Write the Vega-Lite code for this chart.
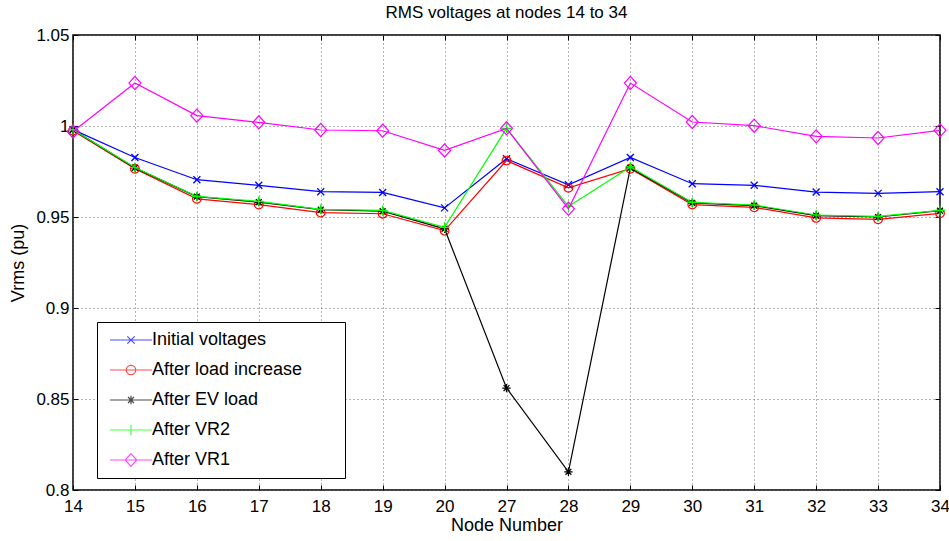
{
  "$schema": "https://vega.github.io/schema/vega-lite/v6.json",
  "width": 867,
  "height": 455,
  "autosize": {"type": "none"},
  "padding": {"left": 73, "top": 35, "right": 9, "bottom": 51},
  "background": "white",
  "title": {"text": "RMS voltages at nodes 14 to 34", "fontSize": 17, "font": "Liberation Sans", "fontWeight": "normal", "color": "black", "offset": 4, "anchor": "middle"},
  "config": {
    "view": {"stroke": "black", "strokeWidth": 1.5},
    "axis": {
      "labelFont": "Liberation Sans", "titleFont": "Liberation Sans",
      "labelFontSize": 17, "titleFontSize": 18,
      "labelColor": "black", "titleColor": "black", "titleFontWeight": "normal",
      "domain": false, "tickColor": "black", "tickSize": -5, "tickWidth": 1,
      "gridColor": "#666", "gridDash": [1, 3], "gridOpacity": 1, "gridWidth": 1
    }
  },
  "datasets": {
    "volts": [
      {"series": "Initial voltages", "node": 14, "v": 0.998},
      {"series": "Initial voltages", "node": 15, "v": 0.9827},
      {"series": "Initial voltages", "node": 16, "v": 0.9705},
      {"series": "Initial voltages", "node": 17, "v": 0.9674},
      {"series": "Initial voltages", "node": 18, "v": 0.9639},
      {"series": "Initial voltages", "node": 19, "v": 0.9635},
      {"series": "Initial voltages", "node": 20, "v": 0.955},
      {"series": "Initial voltages", "node": 27, "v": 0.982},
      {"series": "Initial voltages", "node": 28, "v": 0.9677},
      {"series": "Initial voltages", "node": 29, "v": 0.9827},
      {"series": "Initial voltages", "node": 30, "v": 0.9683},
      {"series": "Initial voltages", "node": 31, "v": 0.9674},
      {"series": "Initial voltages", "node": 32, "v": 0.9637},
      {"series": "Initial voltages", "node": 33, "v": 0.963},
      {"series": "Initial voltages", "node": 34, "v": 0.9639},
      {"series": "After load increase", "node": 14, "v": 0.9974},
      {"series": "After load increase", "node": 15, "v": 0.9765},
      {"series": "After load increase", "node": 16, "v": 0.960},
      {"series": "After load increase", "node": 17, "v": 0.9568},
      {"series": "After load increase", "node": 18, "v": 0.9524},
      {"series": "After load increase", "node": 19, "v": 0.9518},
      {"series": "After load increase", "node": 20, "v": 0.9425},
      {"series": "After load increase", "node": 27, "v": 0.981},
      {"series": "After load increase", "node": 28, "v": 0.966},
      {"series": "After load increase", "node": 29, "v": 0.9765},
      {"series": "After load increase", "node": 30, "v": 0.9568},
      {"series": "After load increase", "node": 31, "v": 0.9553},
      {"series": "After load increase", "node": 32, "v": 0.9495},
      {"series": "After load increase", "node": 33, "v": 0.9487},
      {"series": "After load increase", "node": 34, "v": 0.952},
      {"series": "After EV load", "node": 14, "v": 0.998},
      {"series": "After EV load", "node": 15, "v": 0.977},
      {"series": "After EV load", "node": 16, "v": 0.9612},
      {"series": "After EV load", "node": 17, "v": 0.9582},
      {"series": "After EV load", "node": 18, "v": 0.954},
      {"series": "After EV load", "node": 19, "v": 0.9532},
      {"series": "After EV load", "node": 20, "v": 0.9435},
      {"series": "After EV load", "node": 27, "v": 0.856},
      {"series": "After EV load", "node": 28, "v": 0.81},
      {"series": "After EV load", "node": 29, "v": 0.977},
      {"series": "After EV load", "node": 30, "v": 0.9578},
      {"series": "After EV load", "node": 31, "v": 0.9563},
      {"series": "After EV load", "node": 32, "v": 0.9508},
      {"series": "After EV load", "node": 33, "v": 0.95},
      {"series": "After EV load", "node": 34, "v": 0.9535},
      {"series": "After VR2", "node": 14, "v": 0.998},
      {"series": "After VR2", "node": 15, "v": 0.9772},
      {"series": "After VR2", "node": 16, "v": 0.9613},
      {"series": "After VR2", "node": 17, "v": 0.9586},
      {"series": "After VR2", "node": 18, "v": 0.9542},
      {"series": "After VR2", "node": 19, "v": 0.9536},
      {"series": "After VR2", "node": 20, "v": 0.9443},
      {"series": "After VR2", "node": 27, "v": 0.9987},
      {"series": "After VR2", "node": 28, "v": 0.9558},
      {"series": "After VR2", "node": 29, "v": 0.9775},
      {"series": "After VR2", "node": 30, "v": 0.958},
      {"series": "After VR2", "node": 31, "v": 0.9566},
      {"series": "After VR2", "node": 32, "v": 0.9511},
      {"series": "After VR2", "node": 33, "v": 0.9503},
      {"series": "After VR2", "node": 34, "v": 0.9536},
      {"series": "After VR1", "node": 14, "v": 0.997},
      {"series": "After VR1", "node": 15, "v": 1.0236},
      {"series": "After VR1", "node": 16, "v": 1.0057},
      {"series": "After VR1", "node": 17, "v": 1.002},
      {"series": "After VR1", "node": 18, "v": 0.9978},
      {"series": "After VR1", "node": 19, "v": 0.9974},
      {"series": "After VR1", "node": 20, "v": 0.9866},
      {"series": "After VR1", "node": 27, "v": 0.9987},
      {"series": "After VR1", "node": 28, "v": 0.9545},
      {"series": "After VR1", "node": 29, "v": 1.0236},
      {"series": "After VR1", "node": 30, "v": 1.0022},
      {"series": "After VR1", "node": 31, "v": 1.0002},
      {"series": "After VR1", "node": 32, "v": 0.9943},
      {"series": "After VR1", "node": 33, "v": 0.9934},
      {"series": "After VR1", "node": 34, "v": 0.9976}
    ]
  },
  "data": {"name": "volts"},
  "encoding": {
    "x": {"field": "node", "type": "ordinal",
      "scale": {"type": "point", "padding": 0, "domain": [14, 15, 16, 17, 18, 19, 20, 27, 28, 29, 30, 31, 32, 33, 34]}},
    "y": {"field": "v", "type": "quantitative",
      "scale": {"domain": [0.8, 1.05], "nice": false, "zero": false}}
  },
  "layer": [
    {
      "encoding": {
        "x": {"field": "node", "type": "ordinal",
          "scale": {"type": "point", "padding": 0, "domain": [14, 15, 16, 17, 18, 19, 20, 27, 28, 29, 30, 31, 32, 33, 34]},
          "axis": {"title": "Node Number", "labelAngle": 0, "grid": true, "labelPadding": 13, "titlePadding": 2}},
        "y": {"field": "v", "type": "quantitative",
          "scale": {"domain": [0.8, 1.05], "nice": false, "zero": false},
          "axis": {"title": "Vrms (pu)", "values": [0.8, 0.85, 0.9, 0.95, 1, 1.05], "format": "~g", "grid": true, "labelPadding": 9, "titlePadding": 8}}
      },
      "layer": [
        {"transform": [{"filter": "datum.series === 'Initial voltages'"}],
         "mark": {"type": "line", "color": "#0000ff", "strokeWidth": 1.2,
           "point": {"shape": "M-1,-1L1,1M-1,1L1,-1", "filled": false, "size": 49, "stroke": "#0000ff", "strokeWidth": 1.3}}},
        {"transform": [{"filter": "datum.series === 'After load increase'"}],
         "mark": {"type": "line", "color": "#ff0000", "strokeWidth": 1.2,
           "point": {"shape": "circle", "filled": false, "size": 75, "stroke": "#ff0000", "strokeWidth": 1.2}}},
        {"transform": [{"filter": "datum.series === 'After EV load'"}],
         "mark": {"type": "line", "color": "#000000", "strokeWidth": 1.2,
           "point": {"shape": "M-1,0L1,0M0,-1L0,1M-0.7,-0.7L0.7,0.7M-0.7,0.7L0.7,-0.7", "filled": false, "size": 70, "stroke": "#000000", "strokeWidth": 1.2}}},
        {"transform": [{"filter": "datum.series === 'After VR2'"}],
         "mark": {"type": "line", "color": "#00ff00", "strokeWidth": 1.2,
           "point": {"shape": "M-1,0L1,0M0,-1L0,1", "filled": false, "size": 100, "stroke": "#00ff00", "strokeWidth": 1.2}}},
        {"transform": [{"filter": "datum.series === 'After VR1'"}],
         "mark": {"type": "line", "color": "#ff00ff", "strokeWidth": 1.2,
           "point": {"shape": "M-1,0L0,-1.1L1,0L0,1.1Z", "filled": false, "size": 144, "stroke": "#ff00ff", "strokeWidth": 1.2}}}
      ]
    },
    {
      "transform": [{"filter": "datum.v > 10"}],
      "mark": {"type": "point", "filled": false},
      "encoding": {
        "x": {"field": "node", "type": "ordinal",
          "scale": {"type": "point", "padding": 0, "domain": [14, 15, 16, 17, 18, 19, 20, 27, 28, 29, 30, 31, 32, 33, 34]},
          "axis": {"orient": "top", "labels": false, "title": null, "grid": false}},
        "y": {"field": "v", "type": "quantitative",
          "scale": {"domain": [0.8, 1.05], "nice": false, "zero": false},
          "axis": {"orient": "right", "labels": false, "title": null, "grid": false, "values": [0.8, 0.85, 0.9, 0.95, 1, 1.05]}},
        "shape": {"field": "series", "type": "nominal",
          "scale": {"domain": ["Initial voltages", "After load increase", "After EV load", "After VR2", "After VR1"],
            "range": [
              "M-4,0L4,0M-0.7,-0.7L0.7,0.7M-0.7,0.7L0.7,-0.7",
              "M-4,0L4,0M-0.9,0A0.9,0.9,0,1,0,0.9,0A0.9,0.9,0,1,0,-0.9,0Z",
              "M-4,0L4,0M0,-0.8L0,0.8M-0.57,-0.57L0.57,0.57M-0.57,0.57L0.57,-0.57",
              "M-4,0L4,0M0,-1L0,1",
              "M-4,0L4,0M-1.1,0L0,-1.2L1.1,0L0,1.2Z"
            ]},
          "legend": {"title": "\u00a0", "titleOrient": "right", "titlePadding": 34, "titleFontSize": 10,
            "orient": "none", "legendX": 24, "legendY": 287,
            "symbolSize": 110, "symbolStrokeWidth": 1.2, "symbolOffset": 16,
            "labelFont": "Liberation Sans", "labelFontSize": 18, "labelLimit": 400,
            "labelColor": "black", "strokeColor": "black", "fillColor": "white", "padding": 9,
            "rowPadding": 12, "labelOffset": 12,
            "encode": {"legend": {"update": {"strokeWidth": {"value": 1.5}}}}}},
        "color": {"field": "series", "type": "nominal",
          "scale": {"domain": ["Initial voltages", "After load increase", "After EV load", "After VR2", "After VR1"],
            "range": ["#0000ff", "#ff0000", "#000000", "#00ff00", "#ff00ff"]},
          "legend": {"title": "\u00a0", "titleOrient": "right", "titlePadding": 34, "titleFontSize": 10,
            "orient": "none", "legendX": 24, "legendY": 287,
            "symbolSize": 110, "symbolStrokeWidth": 1.2, "symbolOffset": 16,
            "labelFont": "Liberation Sans", "labelFontSize": 18, "labelLimit": 400,
            "labelColor": "black", "strokeColor": "black", "fillColor": "white", "padding": 9,
            "rowPadding": 12, "labelOffset": 12,
            "encode": {"legend": {"update": {"strokeWidth": {"value": 1.5}}}}}}
      }
    }
  ],
  "resolve": {"axis": {"x": "independent", "y": "independent"}}
}
